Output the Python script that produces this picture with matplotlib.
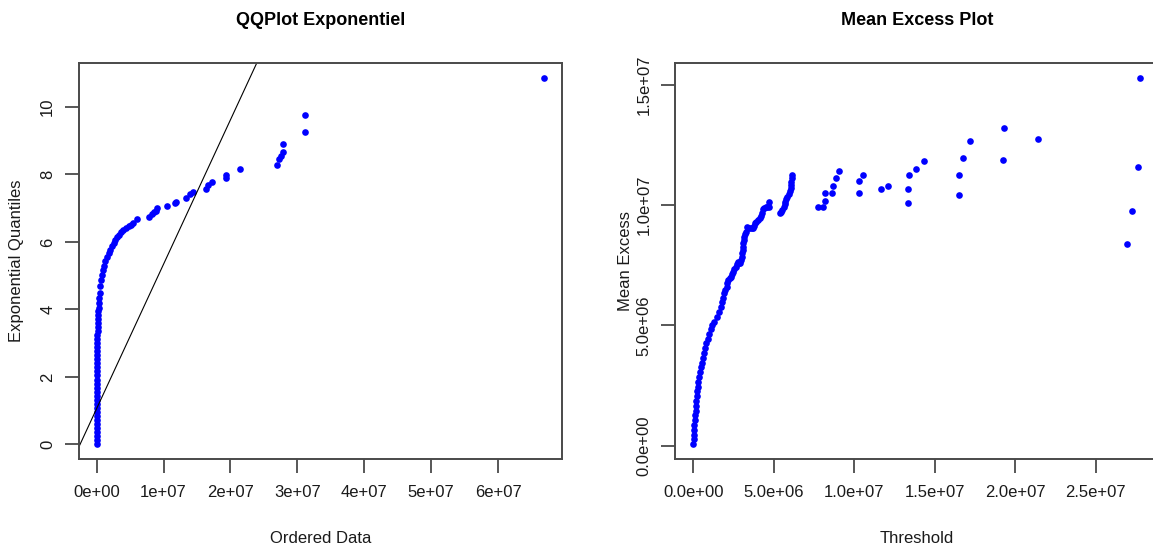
import numpy as np
import matplotlib
matplotlib.use("Agg")
import matplotlib.pyplot as plt

plt.rcParams['font.family'] = ['Liberation Sans', 'DejaVu Sans']

# QQ plot data (x in units of 1e7)
qq_x = [0.000, 0.000, 0.000, 0.000, 0.000, 0.000, 0.000, 0.000, 0.000, 0.000,
        0.000, 0.000, 0.000, 0.000, 0.000, 0.000, 0.000, 0.003, 0.004, 0.005,
        0.005, 0.006, 0.007, 0.008, 0.009, 0.010, 0.011, 0.012, 0.013, 0.015,
        0.017, 0.020, 0.023, 0.026,
        0.030, 0.035, 0.040, 0.045, 0.055, 0.066, 0.080, 0.096, 0.110, 0.130,
        0.155, 0.180, 0.205, 0.230, 0.255, 0.280, 0.305, 0.330, 0.365, 0.400,
        0.440, 0.480, 0.515, 0.550, 0.610,
        0.790, 0.830, 0.860, 0.880, 0.900, 1.050, 1.170, 1.180, 1.340, 1.390,
        1.440, 1.640, 1.670, 1.730, 1.930, 1.940, 2.150, 2.700, 2.730, 2.750,
        2.780, 2.790, 3.110, 3.110, 6.690]
qq_y = [0.00, 0.12, 0.24, 0.36, 0.48, 0.60, 0.72, 0.84, 0.96, 1.08,
        1.20, 1.32, 1.44, 1.56, 1.68, 1.80, 1.92, 2.04, 2.16, 2.28,
        2.40, 2.52, 2.64, 2.76, 2.88, 3.00, 3.12, 3.24, 3.36, 3.48,
        3.60, 3.72, 3.84, 3.96,
        4.04, 4.20, 4.35, 4.49, 4.68, 4.88, 5.03, 5.18, 5.30, 5.42,
        5.55, 5.67, 5.77, 5.87, 5.97, 6.07, 6.14, 6.21, 6.29, 6.36,
        6.41, 6.46, 6.51, 6.56, 6.68,
        6.75, 6.83, 6.88, 6.93, 7.00, 7.05, 7.15, 7.19, 7.30, 7.43,
        7.49, 7.58, 7.69, 7.79, 7.89, 7.99, 8.16, 8.28, 8.45, 8.55,
        8.68, 8.90, 9.25, 9.76, 10.87]
line_intercept = 1.06
line_slope = 4.28e-7

# Mean excess data (both in units of 1e7)
me_x = [0.000, 0.002, 0.004, 0.006, 0.008, 0.011, 0.013, 0.015, 0.017, 0.020,
        0.023, 0.026, 0.029, 0.032, 0.035, 0.040, 0.047, 0.053, 0.058, 0.065,
        0.075, 0.082, 0.090, 0.098, 0.108, 0.118, 0.128, 0.150, 0.160, 0.172,
        0.180, 0.186, 0.193, 0.200, 0.207, 0.212, 0.217, 0.226, 0.234, 0.241,
        0.248, 0.256, 0.265, 0.270, 0.276, 0.283, 0.290, 0.295, 0.300, 0.304,
        0.307, 0.309, 0.311, 0.314, 0.317, 0.321, 0.325, 0.332, 0.342, 0.352,
        0.362, 0.373, 0.378, 0.383, 0.392, 0.400, 0.414, 0.420, 0.425, 0.435,
        0.442, 0.450, 0.460, 0.470, 0.472,
        0.540, 0.547, 0.553, 0.563, 0.567, 0.570, 0.575, 0.580, 0.594, 0.600,
        0.605, 0.606, 0.607, 0.611, 0.615,
        0.776, 0.807, 0.818, 0.818, 0.860, 0.870, 0.885, 0.905,
        1.031, 1.031, 1.054, 1.166, 1.207, 1.332, 1.332, 1.342, 1.385, 1.431,
        1.650, 1.650, 1.673, 1.720, 1.922, 1.932, 2.139, 2.694, 2.723, 2.764,
        2.775]
me_y = [0.005, 0.025, 0.045, 0.065, 0.085, 0.105, 0.125, 0.145, 0.165, 0.185,
        0.205, 0.225, 0.245, 0.265, 0.285, 0.305, 0.325, 0.345, 0.365, 0.385,
        0.405, 0.425, 0.445, 0.465, 0.485, 0.500, 0.515, 0.535, 0.555, 0.575,
        0.595, 0.615, 0.633, 0.647, 0.660, 0.674, 0.688, 0.695, 0.702, 0.713,
        0.723, 0.734, 0.744, 0.754, 0.764, 0.761, 0.758, 0.772, 0.785, 0.799,
        0.813, 0.827, 0.841, 0.855, 0.868, 0.879, 0.889, 0.910, 0.906, 0.903,
        0.903, 0.903, 0.914, 0.924, 0.931, 0.938, 0.945, 0.956, 0.966, 0.983,
        0.988, 0.993, 0.993, 0.993, 1.014,
        0.966, 0.973, 0.980, 0.993, 1.004, 1.014, 1.025, 1.035, 1.046, 1.058,
        1.070, 1.083, 1.097, 1.111, 1.125,
        0.993, 0.993, 1.018, 1.052, 1.052, 1.080, 1.111, 1.143,
        1.100, 1.052, 1.124, 1.066, 1.081, 1.066, 1.007, 1.124, 1.149, 1.182,
        1.124, 1.042, 1.197, 1.268, 1.188, 1.322, 1.274, 0.839, 0.974, 1.159,
        1.530]

qq_xticks = [0, 1e7, 2e7, 3e7, 4e7, 5e7, 6e7]
qq_xlabels = ["0e+00", "1e+07", "2e+07", "3e+07", "4e+07", "5e+07", "6e+07"]
qq_yticks = [0, 2, 4, 6, 8, 10]
me_xticks = [0, 5e6, 1e7, 1.5e7, 2e7, 2.5e7]
me_xlabels = ["0.0e+00", "5.0e+06", "1.0e+07", "1.5e+07", "2.0e+07", "2.5e+07"]
me_yticks = [0, 5e6, 1e7, 1.5e7]
me_ylabels = ["0.0e+00", "5.0e+06", "1.0e+07", "1.5e+07"]

fig = plt.figure(figsize=(11.53, 5.5), dpi=100)
ax1 = fig.add_axes([0.0683, 0.1655, 0.4192, 0.72])
ax2 = fig.add_axes([0.5857, 0.1655, 0.4187, 0.72])


def r_lim(v):
    lo, hi = min(v), max(v)
    d = (hi - lo) * 0.04
    return lo - d, hi + d


def style(ax):
    for s in ax.spines.values():
        s.set_color("#4a4a4a")
        s.set_linewidth(1.4)
    ax.tick_params(axis="both", direction="out", length=10, width=1.3,
                   color="#4a4a4a", labelsize=12, labelcolor="#1a1a1a")
    ax.tick_params(axis="x", pad=9)
    ax.tick_params(axis="y", pad=7)
    for lab in ax.get_yticklabels():
        lab.set_rotation(90)
        lab.set_va("center")


qx = np.array(qq_x) * 1e7
qy = np.array(qq_y)
ax1.plot(qx, qy, "o", color="blue", ms=4.8, mec="blue", mew=0)
xs = np.array(r_lim(qx))
ax1.plot(xs, line_intercept + line_slope * xs, color="black", lw=0.8)
ax1.set_xlim(*r_lim(qx))
ax1.set_ylim(*r_lim(qy))
ax1.set_xticks(qq_xticks)
ax1.set_xticklabels(qq_xlabels)
ax1.set_yticks(qq_yticks)
ax1.set_yticklabels([str(t) for t in qq_yticks])
style(ax1)
ax1.set_title("QQPlot Exponentiel", fontsize=13, fontweight="bold", pad=27)
ax1.set_xlabel("Ordered Data", fontsize=12, color="#1a1a1a")
ax1.set_ylabel("Exponential Quantiles", fontsize=12, color="#1a1a1a")
ax1.xaxis.set_label_coords(0.5, -0.2)
ax1.xaxis.label.set_va("center")
ax1.yaxis.set_label_coords(-0.128, 0.5)
ax1.yaxis.label.set_va("center")

mx = np.array(me_x) * 1e7
my = np.array(me_y) * 1e7
ax2.plot(mx, my, "o", color="blue", ms=4.8, mec="blue", mew=0)
ax2.set_xlim(*r_lim(mx))
ax2.set_ylim(*r_lim(my))
ax2.set_xticks(me_xticks)
ax2.set_xticklabels(me_xlabels)
ax2.set_yticks(me_yticks)
ax2.set_yticklabels(me_ylabels)
style(ax2)
ax2.set_title("Mean Excess Plot", fontsize=13, fontweight="bold", pad=27)
ax2.set_xlabel("Threshold", fontsize=12, color="#1a1a1a")
ax2.set_ylabel("Mean Excess", fontsize=12, color="#1a1a1a")
ax2.xaxis.set_label_coords(0.5, -0.2)
ax2.xaxis.label.set_va("center")
ax2.yaxis.set_label_coords(-0.104, 0.5)
ax2.yaxis.label.set_va("center")

fig.savefig("out.png", dpi=100)
